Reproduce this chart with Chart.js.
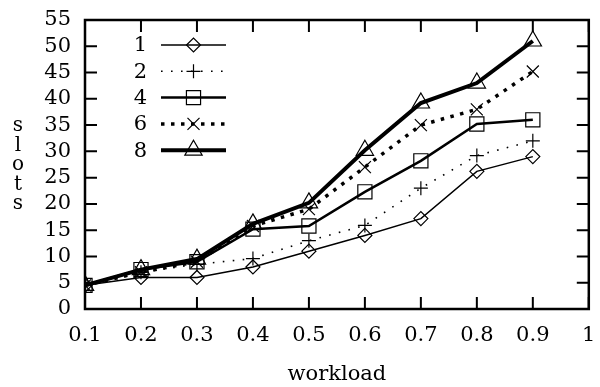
<!DOCTYPE html>
<html>
<head>
<meta charset="utf-8">
<script src="https://cdn.jsdelivr.net/npm/chart.js@4/dist/chart.umd.min.js"></script>
<style>
  html, body { margin: 0; padding: 0; background: #fff; }
  #wrap { width: 600px; height: 387px; }
</style>
</head>
<body>
<div id="wrap"><canvas id="slots"></canvas></div>
<script>
// workload values on the x axis
var workload = [0.1, 0.2, 0.3, 0.4, 0.5, 0.6, 0.7, 0.8, 0.9];

// slots for each series
var slots1 = [4.5, 6, 6, 8, 11, 14, 17.2, 26.2, 29];
var slots2 = [4.5, 7, 8.5, 9.6, 13, 15.9, 23, 29.2, 32];
var slots4 = [4.5, 7.5, 9, 15.2, 15.8, 22.3, 28.2, 35.2, 36];
var slots6 = [4.5, 7, 9, 15.8, 19, 27, 35, 38, 45.2];
var slots8 = [4.5, 7.5, 9.5, 16.2, 20.2, 30.2, 39.2, 43, 51];

var seriesNames = ['1', '2', '4', '6', '8'];
var yTitle = ['s', 'l', 'o', 't', 's'];
var xTitle = 'workload';

var FONT = '"DejaVu Serif", "Liberation Serif", serif';

function pts(vals) {
	return vals.map(function(v, i) { return {x: workload[i], y: v}; });
}

function series(label, vals, style) {
	return Object.assign({
		label: label,
		data: pts(vals),
		borderColor: '#000',
		backgroundColor: 'rgba(0,0,0,0)',
		pointBorderColor: '#000',
		pointBackgroundColor: 'rgba(0,0,0,0)',
		pointBorderWidth: 1.2,
		fill: false,
		tension: 0,
		borderCapStyle: 'butt'
	}, style);
}

var datasets = [
	series(seriesNames[0], slots1, {borderWidth: 1.5, pointStyle: 'rectRot', pointRadius: 7}),
	series(seriesNames[1], slots2, {borderWidth: 1.6, borderDash: [1.6, 8.4], pointStyle: 'cross', pointRadius: 7}),
	series(seriesNames[2], slots4, {borderWidth: 2.5, pointStyle: 'rect', pointRadius: 10}),
	series(seriesNames[3], slots6, {borderWidth: 3.5, borderDash: [3.5, 6.5], pointStyle: 'crossRot', pointRadius: 8.5}),
	series(seriesNames[4], slots8, {borderWidth: 4, pointStyle: 'triangle', pointRadius: 10})
];

function noPad(s) {
	s.paddingLeft = 0; s.paddingRight = 0; s.paddingTop = 0; s.paddingBottom = 0;
}

// frame, inward ticks, stacked y title and the in-plot legend
var decor = {
	id: 'decor',
	afterDatasetsDraw: function(chart) {
		var ctx = chart.ctx, a = chart.chartArea;
		var xs = chart.scales.x, ys = chart.scales.y;
		var tl = 12;
		ctx.save();
		ctx.strokeStyle = '#000';
		ctx.lineWidth = 2;
		ctx.setLineDash([]);
		ctx.beginPath();
		xs.ticks.forEach(function(t) {
			var px = xs.getPixelForValue(t.value);
			ctx.moveTo(px, a.bottom); ctx.lineTo(px, a.bottom - tl);
			ctx.moveTo(px, a.top); ctx.lineTo(px, a.top + tl);
		});
		ys.ticks.forEach(function(t) {
			var py = ys.getPixelForValue(t.value);
			ctx.moveTo(a.left, py); ctx.lineTo(a.left + tl, py);
			ctx.moveTo(a.right, py); ctx.lineTo(a.right - tl, py);
		});
		ctx.stroke();
		ctx.lineWidth = 2.5;
		ctx.strokeRect(a.left, a.top, a.right - a.left, a.bottom - a.top);

		// y title, one letter per line
		ctx.fillStyle = '#000';
		ctx.font = '20px ' + FONT;
		ctx.textAlign = 'center';
		ctx.textBaseline = 'alphabetic';
		yTitle.forEach(function(ch, i) {
			ctx.fillText(ch, 18, 131 + i * 19.5);
		});

		// legend
		var lx0 = 161, lx1 = 226, ly = 45, step = 26.3;
		chart.data.datasets.forEach(function(ds, i) {
			var y = ly + i * step;
			ctx.fillStyle = '#000';
			ctx.textAlign = 'right';
			ctx.textBaseline = 'middle';
			ctx.font = '21px ' + FONT;
			ctx.fillText(ds.label, 147, y + 1);
			ctx.beginPath();
			ctx.lineWidth = ds.borderWidth;
			ctx.setLineDash(ds.borderDash || []);
			ctx.lineCap = 'butt';
			ctx.moveTo(lx0, y); ctx.lineTo(lx1, y);
			ctx.stroke();
			ctx.setLineDash([]);
			if (Chart.helpers && Chart.helpers.drawPoint) {
				ctx.lineWidth = ds.pointBorderWidth;
				ctx.strokeStyle = '#000';
				ctx.fillStyle = 'rgba(0,0,0,0)';
				Chart.helpers.drawPoint(ctx, {
					pointStyle: ds.pointStyle,
					radius: ds.pointRadius,
					rotation: 0,
					borderWidth: ds.pointBorderWidth
				}, (lx0 + lx1) / 2, y);
			}
		});
		ctx.restore();
	}
};

window.onload = function() {
	var ctx = document.getElementById('slots').getContext('2d');
	new Chart(ctx, {
		type: 'line',
		data: {datasets: datasets},
		options: {
			responsive: true,
			maintainAspectRatio: false,
			animation: false,
			events: [],
			layout: {padding: {left: 0, right: 5, top: 20, bottom: 0}},
			plugins: {legend: {display: false}, tooltip: {enabled: false}},
			scales: {
				x: {
					type: 'linear',
					min: 0.1,
					max: 1,
					afterFit: function(s) { s.height = 78; noPad(s); },
					border: {display: false},
					grid: {display: false, drawTicks: false},
					ticks: {
						stepSize: 0.1,
						autoSkip: false,
						padding: 14,
						maxRotation: 0,
						color: '#000',
						font: {family: FONT, size: 21},
						callback: function(v) { return String(+v.toFixed(1)); }
					},
					title: {
						display: true,
						text: xTitle,
						color: '#000',
						padding: {top: 0, bottom: 0},
						font: {family: FONT, size: 21}
					}
				},
				y: {
					min: 0,
					max: 55,
					afterFit: function(s) { s.width = 85; noPad(s); },
					border: {display: false},
					grid: {display: false, drawTicks: false},
					ticks: {
						stepSize: 5,
						autoSkip: false,
						padding: 14,
						color: '#000',
						font: {family: FONT, size: 21}
					}
				}
			}
		},
		plugins: [decor]
	});
};
</script>
</body>
</html>
